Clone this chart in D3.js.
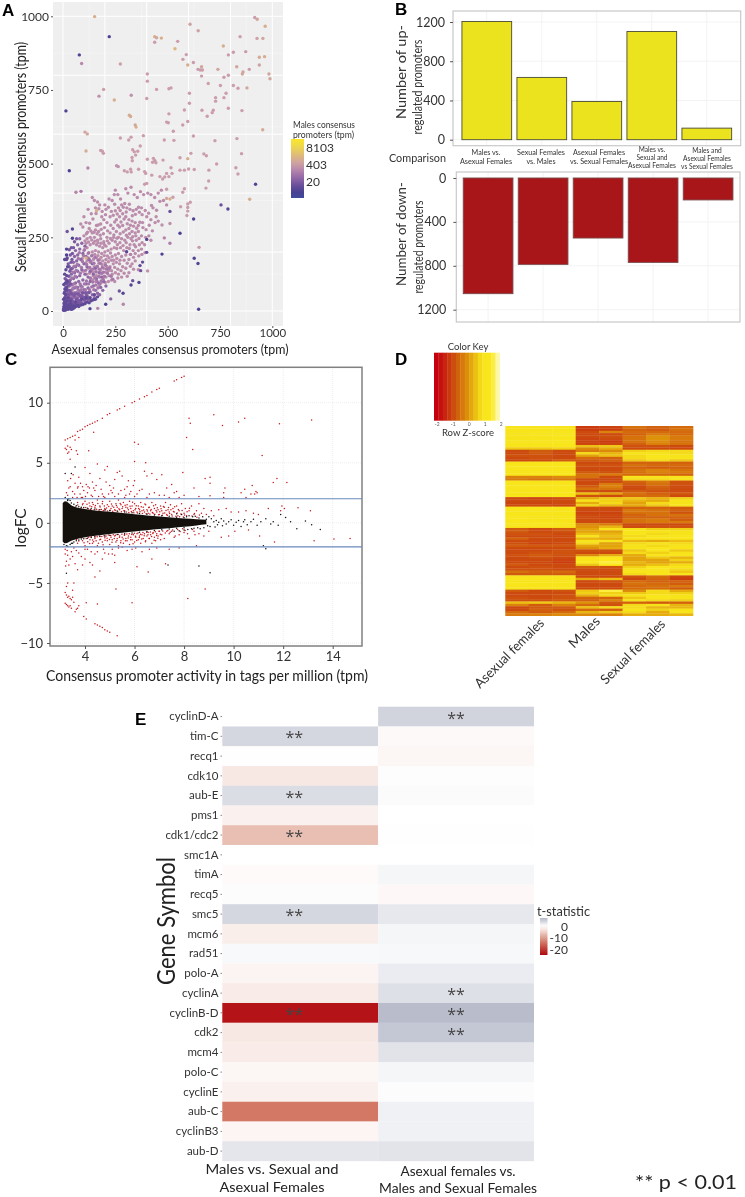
<!DOCTYPE html>
<html><head><meta charset="utf-8">
<script src="https://cdn.jsdelivr.net/npm/d3@7"></script>
<style>html,body{margin:0;padding:0;background:#fff}svg{display:block;filter:blur(.35px)}text{font-family:Lato,"Open Sans",sans-serif;fill:#333}</style>
</head><body><svg id="c" width="745" height="1197"></svg>
<script>
// ---------- Panel A data: [asexual tpm, sexual tpm, ln(male tpm)]
const scatterSparse=[[151,999,7],[221,931,1.6],[607,973,6.3],[646,951,6.3],[916,996,6],[928,990,6.5],[966,966,7],[438,931,7],[447,927,6.5],[470,926,7],[548,915,6],[438,912,6],[535,890,7.5],[766,899,7],[846,931,6],[927,925,6.2],[955,925,6.5],[78,869,1.7],[89,840,5.2],[274,838,6.2],[573,854,6],[589,870,6],[790,869,6],[814,878,6],[873,880,6],[596,835,7],[623,843,6],[645,820,6],[656,818,6],[666,818,6],[662,829,6.5],[662,797,6],[740,820,6.5],[830,829,6.5],[857,804,6.5],[860,811,6.5],[890,820,6],[938,861,6.8],[963,863,7],[938,835,6.3],[984,804,6.5],[989,788,6.5],[403,804,6],[403,780,6],[447,752,6],[506,754,6],[516,757,6],[694,772,6.2],[769,793,6],[790,800,6],[752,765,6],[814,765,6],[836,756,6],[879,757,6.5],[779,739,6],[769,724,6],[729,724,6],[729,712,6],[604,739,6],[604,705,6],[400,721,6],[194,752,6],[172,729,5.5],[245,716,7],[326,732,5.5],[14,679,1.6],[105,607,6.5],[116,601,6.5],[317,664,7],[323,660,6.8],[506,669,6],[495,641,6],[503,639,6],[527,610,6],[345,631,6.5],[349,624,7],[384,595,6],[580,682,6],[664,681,6],[718,681,6],[713,673,6],[689,661,6],[790,688,6],[855,680,6],[572,631,6],[596,643,6],[623,594,6],[726,578,6],[831,585,6],[954,615,6.8],[274,587,6],[314,580,6],[325,590,6],[110,543,6.8],[180,545,6],[188,542,6],[193,535,6],[333,547,6],[341,540,6],[357,542,6],[347,529,6],[330,521,6],[331,510,6],[369,560,6],[484,580,6],[530,579,6],[559,520,6],[611,535,6],[596,517,7],[673,533,6],[685,527,6],[734,499,6],[853,534,6],[920,430,1.7],[892,379,7],[788,346,1.8],[755,360,2.4],[683,417,6],[696,441,6],[697,478,6],[826,486,6],[836,465,6],[30,476,1.6],[119,485,5],[86,406,4.5],[62,403,5],[256,493,5.5],[264,490,5.5],[403,515,6],[432,518,6],[439,510,5.8],[428,505,6],[444,503,6],[478,512,6],[516,486,6],[293,476,6],[307,472,6],[323,481,6],[326,472,6],[361,481,6],[390,473,6],[395,467,6],[424,461,6],[463,456,6],[486,455,6],[476,448,6],[506,456,6],[521,467,6],[495,467,6],[400,433,6],[390,430,6],[559,478,6],[580,478,6],[600,482,6],[627,480,6],[495,413,6],[580,415,6],[572,403,6],[495,382,6.5],[511,380,7],[525,386,6],[562,354,6],[596,363,6],[608,369,6],[596,351,6],[596,339,6],[592,324,6],[624,312,1.6],[511,338,2.4],[511,297,5.5],[559,264,1.6],[473,292,5.5],[484,248,5],[511,230,4.8],[650,216,5.8],[627,179,1.7],[645,161,1.7],[473,193,1.6],[648,6,1.6],[400,243,1.6],[400,199,2.4],[404,136,5.5],[368,154,2.2],[380,166,2.4],[371,137,2.5],[363,97,1.8],[304,201,1.8],[323,192,5],[333,103,2.5],[325,88,1.7],[287,60,1.8],[269,68,2.5],[288,23,5],[204,23,1.6],[228,41,3.5],[166,9,5],[129,8,1.8],[45,278,1.9],[20,270,2.6],[45,247,1.6],[17,210,1.7],[17,190,1.6],[110,180,7.2],[160,340,7]];
const scatterMid=[[120,345],[135,330],[150,375],[165,370],[175,360],[155,350],[140,385],[160,290],[185,320],[200,360],[205,345],[220,380],[235,375],[250,340],[265,350],[280,360],[295,365],[305,350],[320,345],[335,340],[350,345],[365,335],[375,350],[250,410],[262,395],[275,380],[245,395],[300,415],[310,400],[325,420],[340,395],[355,385],[370,405],[385,395],[405,400],[420,395],[438,385],[455,400],[470,410],[480,375],[495,360],[430,350],[445,320],[440,300],[455,305],[420,310],[400,320],[380,300],[360,290],[345,300],[330,305],[315,310],[300,320],[285,330],[270,320],[255,310],[240,325],[225,320],[210,300],[195,310],[180,295],[170,270],[155,275],[140,265],[125,280],[110,300],[100,320],[95,285],[85,295],[100,255],[115,245],[130,250],[150,250],[165,240],[180,245],[195,235],[210,250],[225,265],[240,280],[255,270],[270,285],[285,290],[300,275],[315,280],[330,270],[345,265],[360,270],[375,255],[350,240],[365,225],[340,225],[325,245],[310,250],[295,240],[280,245],[265,250],[250,235],[235,240],[220,230],[205,220],[190,215],[175,220],[160,225],[145,230],[130,225],[115,215],[120,195],[140,200],[155,205],[170,200],[185,195],[200,200],[215,205],[230,210],[245,215],[260,225],[275,215],[290,205],[305,215],[320,225],[335,205],[345,195],[360,205],[375,210],[390,225],[395,250],[410,255],[420,240],[300,190],[315,175],[330,160],[345,170],[360,140],[280,185],[265,195],[250,190],[235,185],[220,180],[205,175],[190,170],[175,175],[160,180],[145,175],[130,165],[115,170],[255,165],[270,160],[285,150],[300,145],[315,130],[240,160],[225,150],[210,150],[195,145],[180,140],[165,150],[150,150],[135,140],[120,145],[250,130],[265,125],[280,115],[235,125],[220,120],[205,115],[190,115],[175,115],[160,120],[145,120],[130,110],
[112,262],[127,298],[143,312],[158,331],[171,347],[187,338],[203,327],[217,352],[231,338],[247,362],[259,329],[273,341],[288,352],[302,336],[317,362],[331,323],[346,328],[361,352],[378,327],[393,341],[409,332],[423,358],[447,342],[463,372],[247,302],[262,291],[277,302],[292,312],[307,296],[322,291],[337,288],[352,281],[367,301],[382,283],[397,276],[412,291],[427,272],[168,292],[183,277],[198,283],[213,272],[228,291],[243,258],[258,247],[273,262],[288,268],[303,257],[318,262],[333,252],[348,255],[363,246],[378,232],[193,262],[178,257],[163,262],[148,267],[133,272],[117,267],[105,238],[122,234],[137,241],[152,237],[167,232],[182,230],[197,226],[212,238],[227,246],[242,250],[257,212],[272,232],[287,222],[302,232],[317,212],[332,238],[347,218],[362,187],[377,192],[392,198],[292,172],[307,162],[322,192],[337,182],[272,172],[257,178],[242,172],[227,197],[212,187],[197,188],[182,182],[167,188],[152,192],[137,187],[122,180],[108,162],[92,178],[100,205],[110,230],[172,162],[187,157],[202,162],[217,167],[232,172],[247,148],[262,142],[277,137],[292,128],[307,118],[322,152],[337,142],[232,137],[217,137],[202,132],[187,128],[172,130],[157,135],[142,132],[127,128],[112,125],[97,135],[262,112],[247,100],[232,105],[217,100],[202,97],[187,98],[172,85],[157,100],[142,105]];
const scatterCorePurple=[[10,20],[15,35],[20,50],[25,65],[30,85],[35,105],[40,125],[45,145],[50,165],[55,185],[60,205],[70,225],[80,245],[15,12],[25,25],[30,40],[35,55],[40,70],[45,90],[50,110],[55,130],[60,150],[65,170],[70,190],[80,210],[90,230],[30,15],[40,30],[45,45],[50,60],[55,78],[60,95],[65,115],[70,135],[75,155],[85,175],[95,195],[105,220],[45,18],[55,30],[60,45],[65,62],[70,80],[75,100],[80,120],[90,140],[100,160],[110,185],[60,20],[70,35],[75,50],[80,68],[85,85],[95,105],[105,125],[115,150],[125,175],[75,25],[85,38],[90,55],[100,72],[110,92],[120,115],[130,135],[140,160],[90,28],[100,42],[110,58],[120,78],[130,100],[145,125],[155,145],[105,32],[120,48],[130,65],[145,85],[160,110],[175,130],[125,40],[140,55],[155,70],[170,95],[185,115],[150,45],[165,60],[180,80],[195,100],[175,55],[190,70],[205,85]];
const scatterCorePink=[[42,112],[48,132],[53,152],[58,118],[63,138],[68,158],[73,178],[78,198],[83,128],[88,148],[93,168],[98,188],[103,208],[108,138],[113,158],[118,178],[123,198],[128,148],[133,168],[138,188],[143,142],[148,162],[153,182],[158,132],[163,152],[168,172],[173,142],[178,162],[183,128],[188,148],[193,132],[198,118],[52,92],[62,82],[72,72],[82,92],[92,82],[102,92],[112,102],[122,92],[132,112],[142,98],[152,112],[162,102],[172,118],[182,102],[192,108],[57,62],[67,52],[77,62],[87,72],[97,62],[107,72],[117,62],[127,72],[137,82],[147,72],[157,88],[167,78],[177,92],[38,88],[43,72],[48,78],[33,62],[28,48],[23,38],[37,48],[47,52],[212,128],[208,142],[203,155],[222,145],[230,118],[238,108]];
const scatterCoreDense=[[6,28],[11,42],[16,58],[21,72],[26,88],[31,98],[36,92],[27,32],[33,28],[38,42],[43,38],[48,32],[53,52],[58,58],[63,38],[68,42],[73,58],[78,35],[83,52],[88,45],[93,62],[98,48],[103,38],[108,62],[113,52],[118,40],[123,62],[13,28],[18,25],[23,22],[28,15],[33,12],[38,18],[43,22],[48,25],[53,22],[58,25],[63,28],[68,25],[73,32],[78,30],[83,30],[7,35],[12,38],[17,45],[22,58],[27,55],[32,70],[37,62],[42,58],[8,65],[14,82],[20,92],[24,102],[10,110],[16,105],[28,118],[33,135],[38,142],[30,150],[25,160],[38,165],[43,175],[35,190],[45,195],[50,215],[40,215],[30,208],[55,235],[65,245]];
const scatterCoreDark=[[2,3],[5,2],[8,4],[3,8],[6,10],[10,6],[12,3],[15,5],[18,8],[4,15],[8,18],[12,14],[16,12],[20,10],[24,6],[28,8],[32,10],[36,7],[40,12],[5,25],[10,30],[14,22],[18,18],[22,15],[26,18],[30,22],[34,18],[38,25],[44,15],[50,18],[55,12],[60,15],[65,18],[70,20],[48,8],[42,6],[3,40],[8,45],[12,55],[6,60],[9,75],[15,70],[18,80],[4,90],[12,95],[20,100],[18,120],[8,125],[14,140],[22,150],[17,175],[20,180],[8,175],[75,15],[85,20],[95,22],[105,25],[115,30],[125,28],[135,35],[145,38],[155,40],[165,48],[20,35],[25,45],[35,35],[60,30],[90,40],[110,45],[130,45],[150,55]];
const scatterLegendTicks=[[9,"8103"],[6,"403"],[3,"20"]];
// ---------- Panel B data
const comparisons=[["Males vs.","Asexual Females"],["Sexual Females","vs. Males"],["Asexual Females","vs. Sexual Females"],["Males vs.","Sexual and","Asexual Females"],["Males and","Asexual Females","vs Sexual Females"]];
const upRegulated=[1205,635,390,1103,118];
const downRegulated=[1054,787,547,769,200];
const barTicks=[0,400,800,1200];
// ---------- Panel C data: [activity, logFC]
const bandX=[3.1,3.2,3.5,4,4.5,5,5.5,6,6.5,7,7.5,8,8.5,8.9];
const bandHi=[1.65,1.8,1.4,1.15,1.0,.92,.82,.72,.62,.52,.44,.36,.3,.25];
const bandLo=[-1.55,-1.7,-1.45,-1.2,-1.05,-.92,-.82,-.72,-.62,-.52,-.42,-.33,-.22,-.12];
const maRed=[[3.2,6.9],[3.3,7.0],[3.4,7.1],[3.5,7.2],[3.6,7.3],[3.7,7.6],[3.8,7.7],[3.9,7.8],[4.0,8.0],[4.1,8.1],[4.2,8.2],[4.3,8.3],[4.4,8.4],[4.5,8.5],[4.7,8.7],[4.9,9],[5,9.1],[5.3,9.4],[5.4,9.5],[5.6,9.7],[5.9,10],[6,10.1],[6.2,10.3],[6.4,10.5],[6.5,10.6],[6.7,10.9],[6.9,11.1],[7.0,11.2],[7.6,11.8],[7.7,11.9],[7.9,12.1],[8,12.2],
[3.2,6.2],[3.25,6.1],[3.3,6.4],[3.35,5.9],[3.4,6.3],[3.3,5.8],[3.45,6.1],[3.6,6.9],[3.65,6.0],[3.7,5.7],[3.4,5.3],[3.75,7.1],[4.35,7.55],[4.15,6.0],[6,6.7],[6.15,6.55],[6,5.1],[6.45,5],[8.2,8.7],[8.25,8.3],[8.1,7.1],[8.35,6.1],[9.2,9],[9.55,8.1],[10.2,8.4],[10.45,8.7],[11.85,8.25],[13.15,8.55],[11.15,5.6],[7.95,4.2],[9.05,3.8],[8.85,3.7],[9.05,3.3],[11.75,3.7],[11.6,3.35],[12.15,3.35],[10.75,3.1],[10.95,2.5],[10.9,2.6],[10.85,2.4],[10.45,2.8],[9.05,2.25],[9.65,2.9],[9.6,2.5],[9.6,2.1],[10.3,2.5],[10.5,2.1],[10.7,2.4],[8.4,2.9],[8.6,2.2],
[3.3,3.5],[3.4,3.0],[3.5,2.6],[3.6,3.3],[3.7,2.9],[3.75,3.8],[3.8,2.4],[3.9,3.0],[4.0,4.6],[4.05,3.2],[4.1,2.5],[4.2,4.1],[4.3,3.4],[4.4,2.7],[4.5,4.9],[4.6,3.7],[4.7,2.4],[4.8,4.4],[4.9,4.7],[5.0,3.1],[5.1,2.5],[5.2,3.6],[5.4,4.3],[5.5,3.9],[5.6,2.8],[5.7,3.0],[5.8,2.4],[6,3.5],[6.2,2.7],[6.4,4.3],[6.5,3.9],[6.7,4.1],[6.9,3.6],[7.1,4.0],[7.3,2.9],[7.5,3.2],[7.7,2.6],[8,2.3],[3.3,2.3],[3.5,2.1],[3.9,2.1],[4.3,2.2],[4.8,2.1],[5.2,2.2],[5.6,2.1],[6,2.2],[6.5,2.1],[7,2.3],[7.4,2.1],[7.8,2.1],
[3.25,2.5],[3.35,2.9],[3.42,3.7],[3.52,4.0],[3.58,2.4],[3.68,2.1],[3.72,3.0],[3.82,3.3],[3.85,2.1],[3.95,2.7],[4.02,2.2],[4.12,3.0],[4.18,2.9],[4.25,2.3],[4.35,2.9],[4.45,3.1],[4.55,2.2],[4.65,2.8],[4.75,2.2],[4.85,3.4],[4.95,2.4],[5.05,2.7],[5.15,2.9],[5.3,4.2],[5.35,2.4],[5.45,2.7],[5.65,2.3],[5.75,3.5],[5.85,2.6],[5.95,3.1],[6.1,2.4],[6.3,2.8],[6.6,2.4],[6.8,2.5],[7.2,2.3],[7.6,2.5],
[3.7,1.7],[3.9,1.5],[4.0,1.8],[4.2,1.4],[4.3,1.7],[4.4,1.3],[4.5,1.9],[4.6,1.4],[4.7,1.6],[4.8,1.2],[4.9,1.5],[5.0,1.8],[5.05,1.2],[5.1,1.4],[5.2,1.1],[5.25,1.6],[5.3,1.3],[5.35,1.9],[5.4,1.1],[5.45,1.5],[5.5,1.2],[5.55,1.7],[5.6,1.0],[5.65,1.3],[5.7,1.5],[5.75,1.1],[5.8,1.8],[5.85,1.2],[5.9,1.4],[5.95,1.0],[6,1.6],[6.05,1.2],[6.1,0.9],[6.15,1.4],[6.2,1.1],[6.25,1.7],[6.3,1.0],[6.35,1.3],[6.4,0.9],[6.45,1.5],[6.5,1.1],[6.55,0.8],[6.6,1.3],[6.65,1.0],[6.7,1.7],[6.75,0.8],[6.8,1.2],[6.85,1.5],[6.9,0.9],[6.95,1.1],[7,0.7],[7.05,1.4],[7.1,1.0],[7.15,0.8],[7.2,1.3],[7.25,1.7],[7.3,0.7],[7.35,1.1],[7.4,0.9],[7.45,1.5],[7.5,0.7],[7.55,1.2],[7.6,0.9],[7.7,1.4],[7.75,0.6],[7.8,1.0],[7.9,1.6],[8,0.8],[8.05,1.2],[8.1,0.6],[8.2,1.0],[8.3,1.4],[8.4,0.7],[8.5,1.0],[8.6,1.6],[8.7,0.8],[8.8,1.2],[8.9,0.7],[9.1,1.0],[9.2,0.6],[9.4,1.1],[9.7,1.2],[9.9,0.9],[10.2,0.9],[10.5,1.0],[10.8,0.8],[11,0.7],[11.4,1.2],[11.9,1.0],[11.95,1.4],[12.05,1.2],[12.6,1.25],[13.1,1.0],
[3.62,1.32],[3.71,1.48],[3.83,1.22],[3.92,1.61],[4.03,1.27],[4.08,1.55],[4.13,1.18],[4.17,1.66],[4.22,1.12],[4.27,1.35],[4.33,1.52],[4.37,1.09],[4.42,1.44],[4.47,1.13],[4.52,1.62],[4.56,1.07],[4.61,1.31],[4.66,1.12],[4.71,1.78],[4.74,1.03],[4.78,1.41],[4.83,1.08],[4.87,1.24],[4.91,0.98],[4.96,1.36],[5.02,1.04],[5.07,1.57],[5.12,0.96],[5.16,1.29],[5.22,1.02],[5.27,1.44],[5.32,0.93],[5.37,1.17],[5.42,1.62],[5.47,0.92],[5.52,1.33],[5.57,1.01],[5.62,1.47],[5.67,0.9],[5.72,1.24],[5.77,0.86],[5.82,1.38],[5.87,0.95],[5.92,1.71],[5.97,0.84],[6.02,1.08],[6.07,1.43],[6.12,0.82],[6.17,1.19],[6.22,0.92],[6.27,1.33],[6.32,0.78],[6.37,1.06],[6.42,1.56],[6.47,0.76],[6.52,0.98],[6.57,1.27],[6.62,0.74],[6.67,1.12],[6.72,0.86],[6.77,1.42],[6.82,0.72],[6.87,1.03],[6.92,1.26],[6.97,0.68],[7.02,0.92],[7.07,1.18],[7.12,0.64],[7.17,1.36],[7.22,0.82],[7.27,1.02],[7.32,0.61],[7.37,1.27],[7.42,0.77],[7.47,1.08],[7.52,0.58],[7.57,0.94],[7.62,1.33],[7.67,0.54],[7.72,0.83],[7.77,1.12],[7.82,0.51],[7.87,0.74],[7.92,1.02],[7.97,0.48],[8.02,0.66],[8.12,0.92],[8.22,1.22],[8.32,0.56],[8.42,0.78],[8.52,0.46],[8.62,0.66],
[3.7,-1.7],[3.9,-1.5],[4.0,-1.9],[4.2,-1.4],[4.3,-1.7],[4.4,-1.3],[4.5,-1.9],[4.6,-1.4],[4.7,-1.6],[4.8,-1.25],[4.9,-1.5],[5.0,-1.8],[5.05,-1.2],[5.1,-1.4],[5.2,-1.1],[5.25,-1.6],[5.3,-1.3],[5.35,-1.9],[5.4,-1.1],[5.45,-1.5],[5.5,-1.2],[5.55,-1.7],[5.6,-1.0],[5.65,-1.3],[5.7,-1.5],[5.75,-1.1],[5.8,-1.8],[5.85,-1.2],[5.9,-1.4],[5.95,-1.0],[6,-1.6],[6.05,-1.2],[6.1,-0.9],[6.15,-1.4],[6.2,-1.1],[6.25,-1.7],[6.3,-1.0],[6.35,-1.3],[6.4,-0.9],[6.45,-1.5],[6.5,-1.1],[6.55,-0.8],[6.6,-1.3],[6.65,-1.0],[6.7,-1.7],[6.75,-0.8],[6.8,-1.2],[6.85,-1.5],[6.9,-0.9],[6.95,-1.1],[7,-0.7],[7.05,-1.4],[7.1,-1.0],[7.2,-1.3],[7.3,-0.7],[7.4,-0.9],[7.5,-0.7],[7.6,-1.2],[7.8,-1.0],[8,-0.8],[8.2,-1.3],[8.4,-0.7],[8.6,-0.9],[8.8,-1.1],[9.0,-0.7],[9.5,-1.2],[9.8,-1.1],[10.05,-0.7],[10.6,-0.6],[11.05,-1.1],[11.65,-1.6],[13.25,-1.5],[14.05,-1.35],[14.7,-1.3],
[3.66,-1.38],[3.75,-1.52],[3.88,-1.25],[3.96,-1.66],[4.05,-1.3],[4.11,-1.58],[4.15,-1.2],[4.19,-1.72],[4.25,-1.15],[4.31,-1.42],[4.35,-1.58],[4.39,-1.12],[4.45,-1.48],[4.49,-1.16],[4.54,-1.7],[4.59,-1.1],[4.63,-1.36],[4.68,-1.14],[4.73,-1.82],[4.77,-1.08],[4.81,-1.44],[4.85,-1.1],[4.89,-1.28],[4.94,-1.02],[4.99,-1.39],[5.04,-1.06],[5.09,-1.61],[5.14,-1.0],[5.18,-1.31],[5.23,-1.04],[5.29,-1.47],[5.34,-0.97],[5.39,-1.2],[5.44,-1.65],[5.49,-0.94],[5.54,-1.35],[5.59,-1.03],[5.64,-1.5],[5.69,-0.92],[5.74,-1.26],[5.79,-0.9],[5.84,-1.41],[5.89,-0.98],[5.94,-1.74],[5.99,-0.87],[6.04,-1.11],[6.09,-1.46],[6.14,-0.85],[6.19,-1.22],[6.24,-0.94],[6.29,-1.35],[6.34,-0.8],[6.39,-1.08],[6.44,-1.58],[6.49,-0.78],[6.54,-1.0],[6.59,-1.3],[6.64,-0.76],[6.69,-1.14],[6.74,-0.88],[6.79,-1.45],[6.84,-0.74],[6.89,-1.05],[6.94,-1.28],[6.99,-0.7],[7.04,-0.94],[7.14,-0.68],[7.24,-0.84],[7.34,-0.63],[7.44,-0.79],[7.54,-0.6],[7.64,-1.1],[7.74,-0.56],[7.84,-0.72],[7.94,-0.5],[8.04,-0.64],[8.14,-0.9],[8.34,-0.55],[8.44,-1.0],
[3.2,-2.2],[3.25,-3.2],[3.3,-2.7],[3.35,-3.5],[3.45,-2.4],[3.6,-3.4],[3.65,-2.3],[3.7,-3.9],[3.85,-2.8],[4,-3],[4.1,-2.2],[4.2,-3.3],[4.3,-3.5],[4.5,-2.4],[4.6,-4],[4.8,-2.5],[5.1,-2.2],[5.2,-2.7],[5.5,-2],[5.9,-2.2],[6.3,-2.4],[6.7,-3],[6.9,-2.1],[7.25,-3.4],[7.4,-2.2],[7.8,-2.1],[8.5,-1.9],[6.1,-3.65],[6.55,-4.1],[5.25,-5.5],[5.2,-3.3],[4.4,-4.5],[8.85,-5.5],[8.15,-6.3],[5.9,-6.65],[4.5,-6.75],[4.05,-6.65],[3.95,-7.8],[4.05,-8],
[3.2,-2.6],[3.22,-3.6],[3.28,-2.3],[3.4,-3.0],[3.5,-2.8],[3.55,-2.1],[3.75,-2.5],[3.9,-3.5],[4.0,-2.2],[4.25,-2.4],[4.4,-2.6],[4.7,-3.0],[4.75,-2.2],[4.95,-2.6],[5.1,-2.6],[5.35,-2.1],[5.7,-2.3],[6.05,-2.1],[6.6,-2.2],
[3.2,-6.7],[3.25,-6.8],[3.3,-6.9],[3.35,-7.0],[3.4,-6.9],[3.45,-7.1],[3.2,-5.8],[3.25,-6],[3.3,-6.2],[3.35,-6.1],[3.4,-6.3],[3.45,-6.4],[3.5,-6.2],[3.55,-6.6],[3.6,-7.4],[3.65,-7.2],[3.7,-7.1],[3.75,-6.9],[3.25,-5.3],[3.3,-5],[3.55,-5],[3.5,-5.6],
[4.4,-8.4],[4.5,-8.5],[4.6,-8.6],[4.7,-8.7],[4.8,-8.9],[4.9,-9],[5,-9.1],[5.3,-9.4]];
const maBlack=[[3.6,4.65],[3.2,4.1],[3.45,4.1],[3.25,-4.2],[7.35,-3.5],[8.6,-3.6],[9.05,-4.15],[11.3,-2.15],[11.2,-1.9],[13.5,-.55],[13.15,-.15],[12.9,.15],[12.55,-.5],[12.3,.1],[12.1,.45],[11.9,.7],[11.8,-.2],[11.6,.1],[11.5,-.1],[11.3,.35],[11.1,.1],[10.95,-.2],[10.8,.3],[10.7,.1],[10.55,-.15],[10.45,.25],[10.4,.1],[10.3,-.3],[10.2,.2],[10.1,.05],[10,-.2],[9.9,.25],[9.8,.1],[9.7,-.1],[9.6,.15],[9.55,-.25],[9.5,.35],[9.4,.05],[9.35,-.15],[9.3,.2],[9.25,-.35],[9.2,.1],[9.1,.35],[9.05,-.3],[9,.5],[8.95,-.25],[8.9,.3],[8.8,-.4],[8.75,.5],[8.7,.1],[8.65,-.5],[8.6,.4],[8.55,-.4],[8.45,.55],[8.4,-.45],[8.35,.5],[8.3,-.5],[8.2,.6],[8.15,-.55],[8.1,.5],[8,-.6],[7.9,.7],[7.8,-.65],[7.7,.75],[7.6,-.7],[3.2,2.1],[3.3,1.95],[3.35,2.0],[3.4,1.85],[3.15,-1.8],[3.25,-1.9],[3.4,-1.8],[3.5,-1.7],
[3.3,1.85],[3.45,1.65],[3.55,1.55],[3.65,1.42],[3.75,1.35],[3.85,1.3],[3.95,1.28],[4.1,1.22],[4.25,1.18],[4.4,1.15],[4.6,1.1],[4.8,1.06],[5,1.03],[5.3,.98],[5.6,.9],[5.9,.85],[6.2,.78],[6.5,.72],[6.8,.66],[7.1,.6],[7.4,.54],[7.7,.47],[8,.42],[3.3,-1.95],[3.45,-1.7],[3.55,-1.6],[3.65,-1.5],[3.75,-1.42],[3.85,-1.35],[3.95,-1.32],[4.1,-1.28],[4.25,-1.22],[4.4,-1.18],[4.6,-1.14],[4.8,-1.1],[5,-1.03],[5.3,-.98],[5.6,-.9],[5.9,-.84],[6.2,-.78],[6.5,-.72],[6.8,-.64],[7.1,-.58],[7.4,-.52],[7.7,-.45],[8,-.4]];
// ---------- Panel D data: one row per promoter, columns = 3 asexual, 2 male, 3 sexual replicates
const heatGroups=["Asexual females","Males","Sexual females"];
const heatKeyTicks=[-2,-1,0,1,2];
const heatRows=[[.9,.9,.9,-1.2,-1.1,-.5,-.7,-.6],[.9,.9,.9,-1.2,-1.2,-.7,-.8,-.5],[.9,1,1,-1,-.3,-.6,-.6,-.6],[.8,1,1,-1,-1,-.7,-.4,-.6],[.8,.9,1,-1,-.9,-.5,-.1,-.4],[.8,.9,1,-1.1,-1,-.5,-.1,-.4],[.9,.9,1,-1.1,-1.2,-.5,-.2,-.5],[.9,.9,1,-1.1,-1.1,-.7,-.3,-.5],[.9,.9,1,.4,.5,-.9,-.9,-1],[.5,.5,.6,-.2,.2,-1,-1,-1],[-1,-.8,-1,-.4,-.2,.6,.7,.7],[-1,-.8,-1,.7,.3,.8,.8,.7],[-.9,-.9,-1,.1,.4,.7,1,.8],[-1,-.9,-1,-.6,-.7,.7,1,.9],[-1,-1,-.8,-.8,-.7,.5,.7,.5],[.9,1,1,-1,-1,-.7,-.7,-.7],[1,1,1,-.9,-.9,-.5,-.6,-.6],[1,1,1,-1,-1,-.7,-.8,-.7],[.9,1,1,-1,-1,-.5,-.3,-.5],[.9,1,1,-.8,-.9,-.5,-.3,-.4],[.9,1,1,-.5,-.4,-.6,-.6,-.7],[-.3,-.3,-.2,-.5,-1,.9,.8,.9],[-.4,-.5,-.4,-1,-1,.7,.7,.8],[1,.9,.9,-1,-1,-.7,-.4,-.9],[1,1,1,-1,-.4,-.8,-.5,-.9],[1,1,1,-.8,-.3,-1,-.7,-1],[.9,1,1,-.5,-.5,-1,-.8,-1],[.9,1,1,-1,-1,-.8,-.9,-1],[.8,.9,1,.4,.1,-.5,-.7,-.8],[.9,.9,1,-.9,-1,-.6,-.6,-1],[-1,-1.1,-1,.2,.5,.5,.3,.6],[-1,-1,-1,.8,.6,.3,.2,.8],[-1.1,-1.1,-1,.2,.7,.1,.7,.8],[-1,-1,-1.1,.6,.3,.2,.5,.8],[1,1,1,-1,-1,-.7,-.7,-.8],[1,1,.9,-1,-1,-.4,-.5,-.7],[1,1,.9,-1.1,-1.1,-.5,-.5,-.9],[1,.9,.9,-1,-1,-.7,-.5,-.5],[1,.9,.9,-1,-1.1,-.7,-.7,-.7],[1,.9,.9,-1,-1,-.5,-.4,-.8],[1,1,.9,-1,-1,-.5,-.4,-.4],[1,1,.9,-.2,-.4,-1,-1,-1],[.9,1,.9,-.1,.3,-1,-.9,-.9],[-.8,-1,-.8,.1,.8,.9,.6,.6],[-.8,-1,-.9,.1,.1,.9,.9,.8],[-.9,-.9,-1,.4,.3,1,.7,.8],[-1,-1,-1,.8,.4,.7,.9,1],[-.7,-1,-1,.3,.2,.9,1,1],[-1,-1,-1,.9,.9,.3,.2,.4],[-.9,-1.1,-1,.7,.1,.7,.8,.7],[-.8,-.8,-.8,.1,.1,.8,.7,.9],[-1,-1,-1,-.1,.2,.8,1,.9],[-1,-1,-.9,-.9,-.9,.5,.9,.5],[-1,-.9,-.9,-1,-1,.7,.6,.8],[-.9,-.8,-.9,-.2,.2,.2,.9,.9],[-1,-.9,-1,1,1.3,.1,.5,.3],[-1,-1,-1.1,1,1.4,.1,.1,.6],[-1,-1,-1.2,1.1,1.5,.3,.1,.2],[-.8,-1,-1,.5,1.4,.2,.4,.7],[-1,-.9,-1,-.8,-.9,.6,1,.9],[-.9,-.9,-1,-1,-1,.8,1,.7],[-.5,-.7,-.6,-1,-1,.9,1,.5],[-.8,-.8,-.8,-1,-1,.7,1,.9],[1,1,1,-1,-1,-.9,-.6,-1.1],[1,1,.9,.2,.4,-1.1,-.7,-1.2],[.9,.9,.9,-1,-.9,-.6,-.7,-.7],[1,.9,.9,-1,-1,-.5,-.6,-.8],[.9,.9,.9,-1,-1,-.6,-.5,-.4],[.9,.9,.9,-1,-1,-.6,-.6,-.8],[-.8,-1,-.9,.5,1.5,-.2,.7,.2],[-1,-1,-1,.6,.6,.5,.7,.6],[-1,-1,-.9,.2,.7,.8,1,.8],[-.9,-1,-.9,-.7,-.7,.5,1,.8],[-.9,-.9,-.8,-.7,-.3,.8,.7,.6],[.4,.5,.3,-.1,-.8,-.7,-.8,-.7],[-.3,-.8,-.3,-.6,-.9,.7,.8,.3],[-1,-.8,-.8,.4,.7,.7,.3,.3],[-1,-.7,-.9,-.6,-.7,.8,.6,.8],[-.6,-.8,-.6,.3,.5,.7,.2,.9],[-.4,-.3,-.2,-.2,-.3,.2,.2,.3]];
// ---------- Panel E data
const geneSymbols=["cyclinD-A","tim-C","recq1","cdk10","aub-E","pms1","cdk1/cdc2","smc1A","timA","recq5","smc5","mcm6","rad51","polo-A","cyclinA","cyclinB-D","cdk2","mcm4","polo-C","cyclinE","aub-C","cyclinB3","aub-D"];
const tMales=[0,3.9,-.1,-2.8,3.3,-1.8,-7,0,-.6,.3,3.9,-2.1,.6,-1.3,-2.4,-24,-2.8,-2.4,-1,-1.8,-14,-1.2,2.4];
const tAsexual=[4.2,-.7,-1.1,-.2,.4,0,.1,0,.9,-.8,2.2,.9,.7,1.8,3,6.5,5.4,2.7,.9,.3,1.4,1.4,2.6];
const sigMales=["tim-C","aub-E","cdk1/cdc2","smc5","cyclinB-D"];
const sigAsexual=["cyclinD-A","cyclinA","cyclinB-D","cdk2"];
const tTicks=[0,-10,-20];

const svg=d3.select("#c");
const plain=d3.format("d");
function label(g,x,y,s,o={}){const t=g.append("text").attr("x",x).attr("y",y).text(s).attr("font-size",o.size||12).attr("text-anchor",o.anchor||"start");
 if(o.fill)t.style("fill",o.fill); if(o.weight)t.attr("font-weight",o.weight); if(o.family)t.style("font-family",o.family);
 if(o.rot!=null)t.attr("transform",`rotate(${o.rot} ${x} ${y})`); if(o.len)t.attr("textLength",o.len).attr("lengthAdjust","spacingAndGlyphs"); return t;}
function panel(x,y,s){label(svg,x,y,s,{size:17,weight:700,family:"Liberation Sans",fill:"#000"});}
function styleAxis(g,col,size){g.select(".domain").remove();g.selectAll(".tick line").attr("stroke",col);g.selectAll(".tick text").attr("font-size",size).style("fill","#333");}
panel(2,16,"A");panel(395,15,"B");panel(5,365,"C");panel(395,365,"D");panel(135,725,"E");

// ---------- A
(function(){
 const x=d3.scaleLinear().domain([0,1000]).range([63,272.3]),y=d3.scaleLinear().domain([0,1000]).range([311,16.3]);
 const g=svg.append("g");
 g.append("rect").attr("x",53).attr("y",2).attr("width",230).attr("height",324).attr("fill","#efefef");
 [125,375,625,875].forEach(v=>{g.append("line").attr("x1",x(v)).attr("x2",x(v)).attr("y1",2).attr("y2",326).attr("stroke","#f6f6f6").attr("stroke-width",.6);g.append("line").attr("y1",y(v)).attr("y2",y(v)).attr("x1",53).attr("x2",283).attr("stroke","#f6f6f6").attr("stroke-width",.6);});
 x.ticks(4).forEach(v=>g.append("line").attr("x1",x(v)).attr("x2",x(v)).attr("y1",2).attr("y2",326).attr("stroke","#fff").attr("stroke-width",1));
 y.ticks(4).forEach(v=>g.append("line").attr("y1",y(v)).attr("y2",y(v)).attr("x1",53).attr("x2",283).attr("stroke","#fff").attr("stroke-width",1));
 const ax=g.append("g").attr("transform","translate(0,326)").call(d3.axisBottom(x).tickValues([0,250,500,750,1000]).tickFormat(plain).tickSize(2).tickPadding(1));styleAxis(ax,"#555",11.5);
 const ay=g.append("g").attr("transform","translate(53,0)").call(d3.axisLeft(y).tickValues([0,250,500,750,1000]).tickFormat(plain).tickSize(2).tickPadding(2));styleAxis(ay,"#555",12);
 const col=d3.scaleLinear().domain([.2,1.5,3,4.5,6,7.5,9,10.5]).range(["#3f4a9c","#4c3f90","#7d5aa2","#a878ab","#cb9dab","#dcb77f","#ecd651","#fbe62a"]);
 const dots=(pts,c)=>g.append("g").selectAll("circle").data(pts).join("circle").attr("cx",d=>x(d[0])).attr("cy",d=>y(d[1])).attr("r",1.7).attr("fill",d=>col(c!=null?c:d[2]));
 dots(scatterMid,5.3);dots(scatterCorePurple,3.6);dots(scatterCorePink,4.4);dots(scatterCoreDense,2.9);dots(scatterCoreDark,2.1);dots(scatterSparse);
 label(g,26,157,"Sexual females consensus promoters (tpm)",{size:14.5,anchor:"middle",rot:-90,len:230,fill:"#222"});
 label(g,170,354,"Asexual females consensus promoters (tpm)",{size:13.5,anchor:"middle",len:237,fill:"#222"});
 label(g,293,128,"Males consensus",{size:9.5,len:62});label(g,293,138,"promoters (tpm)",{size:9.5,len:61});
 const ly=d3.scaleLinear().domain([10.5,.2]).range([139,198]);
 const grad=svg.append("defs").append("linearGradient").attr("id","ga").attr("x1",0).attr("x2",0).attr("y1",0).attr("y2",1);
 d3.range(0,11).forEach(i=>{const v=10.5-i*1.03;grad.append("stop").attr("offset",i/10).attr("stop-color",col(v));});
 g.append("rect").attr("x",291).attr("y",139).attr("width",13).attr("height",59).attr("fill","url(#ga)");
 scatterLegendTicks.forEach(([v,s])=>label(g,306,ly(v)+4,s,{size:12}));
})();

// ---------- B
(function(){
 const g=svg.append("g");
 const yU=d3.scaleLinear().domain([0,1200]).range([139.7,22]),yD=d3.scaleLinear().domain([0,1200]).range([178,309.7]);
 const bU=d3.scaleBand().domain(d3.range(5)).range([459.3,734.3]).paddingInner(.096).paddingOuter(.048);
 const bD=d3.scaleBand().domain(d3.range(5)).range([460.6,735.6]).paddingInner(.096).paddingOuter(.048);
 const frame=(x0,x1,y0,y1,xs,ys)=>{ys.forEach(v=>g.append("line").attr("x1",x0).attr("x2",x1).attr("y1",v).attr("y2",v).attr("stroke","#f3f3f3"));xs.forEach(v=>g.append("line").attr("x1",v).attr("x2",v).attr("y1",y0).attr("y2",y1).attr("stroke","#f3f3f3"));g.append("rect").attr("x",x0).attr("y",y0).attr("width",x1-x0).attr("height",y1-y0).attr("fill","none").attr("stroke","#c9c9c9").attr("stroke-width",1.2);};
 frame(453,740.7,11,145.7,d3.range(5).map(i=>bU(i)+bU.bandwidth()/2),barTicks.map(yU));
 frame(456.3,740,172,322,d3.range(5).map(i=>bD(i)+bD.bandwidth()/2),barTicks.map(yD));
 g.selectAll(".u").data(upRegulated).join("rect").attr("x",(d,i)=>bU(i)).attr("width",bU.bandwidth()).attr("y",d=>yU(d)).attr("height",d=>yU(0)-yU(d)).attr("fill","#ebe31e").attr("stroke","#4b4a33").attr("stroke-width",.9);
 g.selectAll(".d").data(downRegulated).join("rect").attr("x",(d,i)=>bD(i)).attr("width",bD.bandwidth()).attr("y",yD(0)).attr("height",d=>yD(d)-yD(0)).attr("fill","#a9161a").attr("stroke","#7a4a4a").attr("stroke-width",.9);
 const a1=g.append("g").attr("transform","translate(453,0)").call(d3.axisLeft(yU).tickValues(barTicks).tickFormat(plain).tickSize(3).tickPadding(5));styleAxis(a1,"#555",12.5);
 const a2=g.append("g").attr("transform","translate(456.3,0)").call(d3.axisLeft(yD).tickValues(barTicks).tickFormat(plain).tickSize(3).tickPadding(7));styleAxis(a2,"#555",12.5);
 const tx=[486,541,599,652,707],rows=[[155,164],[155,164],[155,164],[152,160,168],[153,161,169]];
 comparisons.forEach((c,i)=>c.forEach((s,j)=>label(g,tx[i],rows[i][j],s,{size:c.length==3?6.6:7.2,anchor:"middle"})));
 label(g,389,162,"Comparison",{size:11.5,len:57});
 label(g,406,72,"Number of up-",{size:13.5,anchor:"middle",rot:-90,len:94});
 label(g,422,87,"regulated promoters",{size:13.5,anchor:"middle",rot:-90,len:95});
 label(g,406,234,"Number of down-",{size:13.5,anchor:"middle",rot:-90,len:104});
 label(g,423,247,"regulated promoters",{size:13.5,anchor:"middle",rot:-90,len:93});
})();

// ---------- C
(function(){
 const g=svg.append("g");
 const x=d3.scaleLinear().domain([4,14]).range([85,332.7]),y=d3.scaleLinear().domain([-10,10]).range([643,402.7]);
 [4,6,8,10,12,14].forEach(v=>g.append("line").attr("x1",x(v)).attr("x2",x(v)).attr("y1",367).attr("y2",646).attr("stroke","#ededed").attr("stroke-dasharray","1,1"));
 [-10,-5,0,5,10].forEach(v=>g.append("line").attr("y1",y(v)).attr("y2",y(v)).attr("x1",50).attr("x2",362).attr("stroke","#ededed").attr("stroke-dasharray","1,1"));
 g.append("rect").attr("x",50).attr("y",367.3).attr("width",312).attr("height",278.7).attr("fill","none").attr("stroke","#808080").attr("stroke-width",1.5);
 g.append("g").selectAll("circle").data(maRed).join("circle").attr("cx",d=>x(d[0])).attr("cy",d=>y(d[1])).attr("r",.75).attr("fill","#c8161c");
 const area=d3.area().x((d,i)=>x(bandX[i])).y0((d,i)=>y(bandLo[i])).y1((d,i)=>y(bandHi[i])).curve(d3.curveMonotoneX);
 g.append("path").attr("d",area(bandX)).attr("fill","#14100c");
 g.append("g").selectAll("circle").data(maBlack).join("circle").attr("cx",d=>x(d[0])).attr("cy",d=>y(d[1])).attr("r",.75).attr("fill","#111");
 [-2,2].forEach(v=>g.append("line").attr("y1",y(v)).attr("y2",y(v)).attr("x1",50).attr("x2",362).attr("stroke","#6a88bd").attr("stroke-width",1.1));
 const ax=g.append("g").attr("transform","translate(0,646)").call(d3.axisBottom(x).tickValues([4,6,8,10,12,14]).tickSize(3).tickPadding(3));styleAxis(ax,"#555",13);
 const ay=g.append("g").attr("transform","translate(50,0)").call(d3.axisLeft(y).tickValues([-10,-5,0,5,10]).tickFormat(plain).tickSize(3).tickPadding(4));styleAxis(ay,"#555",13);
 label(g,26,528,"logFC",{size:16,anchor:"middle",rot:-90,len:39,fill:"#222"});
 label(g,207,681,"Consensus promoter activity in tags per million (tpm)",{size:15,anchor:"middle",len:322,fill:"#222"});
})();

// ---------- D
(function(){
 const g=svg.append("g");
 const col=d3.scaleLinear().domain([-2,-1,0,.8,1.4,2]).range(["#c4000f","#cc4a0e","#e09a0a","#f7e31a","#fbe91c","#fffff0"]);
 const x=d3.scaleBand().domain(d3.range(8)).range([505.3,693]),y=d3.scaleBand().domain(d3.range(heatRows.length)).range([426,615.7]);
 heatRows.forEach((r,i)=>g.append("g").selectAll("rect").data(r).join("rect").attr("x",(d,j)=>x(j)).attr("y",y(i)).attr("width",x.bandwidth()+.3).attr("height",y.bandwidth()+.3).attr("fill",d=>col(d)));
 const kx=d3.scaleLinear().domain([-2.2,2.2]).range([434,504.3]);
 const bins=d3.range(-2.2,2.2,.275);
 g.selectAll(".k").data(bins).join("rect").attr("x",d=>kx(d)).attr("width",kx(.275)-kx(0)+.3).attr("y",352.7).attr("height",68).attr("fill",d=>col(d+.14));
 heatKeyTicks.forEach(v=>label(g,kx(v),426,String(v),{size:5,anchor:"middle",fill:"#555"}));
 label(g,468,350,"Color Key",{size:9.5,anchor:"middle"});
 label(g,468,436,"Row Z-score",{size:9.5,anchor:"middle"});
 const ends=[[480,689],[574,649],[606,685]],lens=[92,38,85];
 heatGroups.forEach((s,i)=>label(g,ends[i][0],ends[i][1],s,{size:13.5,rot:-45,len:lens[i]}));
})();

// ---------- E
(function(){
 const g=svg.append("g");
 const x=d3.scaleBand().domain([0,1]).range([222.3,534]),y=d3.scaleBand().domain(geneSymbols).range([706.7,1161]);
 const col=d3.scaleLinear().domain([6.5,0,-3,-7,-14,-24]).range(["#b8bccb","#ffffff","#f7e6e1","#e8bfb2","#d27865","#b41318"]);
 [tMales,tAsexual].forEach((vals,k)=>{
  g.append("g").selectAll("rect").data(vals).join("rect").attr("x",x(k)).attr("y",(d,i)=>y(geneSymbols[i])).attr("width",x.bandwidth()).attr("height",y.bandwidth()+.2).attr("fill",d=>col(d));
 });
 [sigMales,sigAsexual].forEach((list,k)=>list.forEach(s=>label(g,x(k)+x.bandwidth()/2-(k?0:6),y(s)+y.bandwidth()/2+7,"**",{size:16,anchor:"middle",fill:"#444",family:"Open Sans"})));
 const ay=g.append("g").attr("transform","translate(222,0)").call(d3.axisLeft(y).tickSize(1.5).tickPadding(2));styleAxis(ay,"#888",11.5);
 label(g,175,921,"Gene Symbol",{size:25,anchor:"middle",rot:-90,len:128,fill:"#222"});
 label(g,537,916,"t-statistic",{size:12.5,len:53});
 const ly=d3.scaleLinear().domain([0,-20]).range([926,949]);
 const grad=svg.append("defs").append("linearGradient").attr("id","ge").attr("x1",0).attr("x2",0).attr("y1",0).attr("y2",1);
 d3.range(0,11).forEach(i=>{const v=ly.invert(918+i*3.7);grad.append("stop").attr("offset",i/10).attr("stop-color",col(v));});
 g.append("rect").attr("x",540).attr("y",918).attr("width",7.5).attr("height",37).attr("fill","url(#ge)");
 tTicks.forEach(v=>label(g,568,ly(v)+4.5,String(v),{size:12,anchor:"end"}));
 label(g,272,1174,"Males vs. Sexual and",{size:14,anchor:"middle",len:133,fill:"#222"});
 label(g,272,1192,"Asexual Females",{size:14,anchor:"middle",len:105,fill:"#222"});
 label(g,458,1176,"Asexual females vs.",{size:14,anchor:"middle",len:115,fill:"#222"});
 label(g,458,1193,"Males and Sexual Females",{size:14,anchor:"middle",len:158,fill:"#222"});
 label(g,635,1189,"** p < 0.01",{size:20,len:102,fill:"#222"});
})();
</script></body></html>
